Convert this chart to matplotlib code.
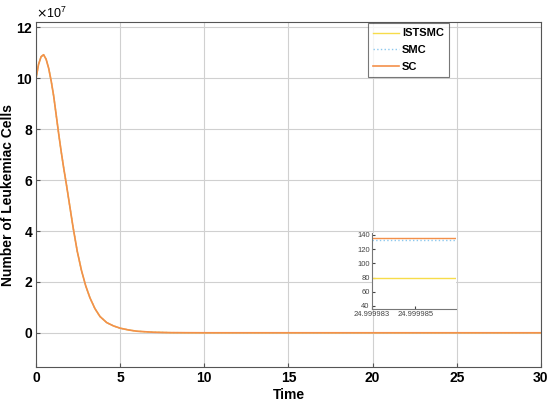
import numpy as np
import matplotlib
matplotlib.use('Agg')
import matplotlib.pyplot as plt
from matplotlib.ticker import ScalarFormatter, FixedLocator, FixedFormatter

# datos (celulas en unidades de 1e7)
time = [0, 0.15, 0.3, 0.45, 0.6, 0.75, 0.9, 1.05, 1.2, 1.35, 1.5, 1.65, 1.8, 2.0,
        2.2, 2.45, 2.7, 2.95, 3.2, 3.5, 3.8, 4.2, 4.6, 5.0, 5.5, 6.0, 7.0, 8.0,
        10, 15, 20, 25, 30]
cells_sc = [10.0, 10.55, 10.85, 10.93, 10.75, 10.4, 9.9, 9.3, 8.55, 7.8, 7.1, 6.45,
            5.85, 5.0, 4.15, 3.2, 2.45, 1.85, 1.38, 0.95, 0.64, 0.4, 0.27, 0.18, 0.11,
            0.06, 0.02, 0.005, 0, 0, 0, 0, 0]
cells_smc = cells_sc
cells_istsmc = cells_sc

# zoom cerca de t = 25
zoom_t = [24.999983, 24.999987]
zoom_istsmc = [79, 79]
zoom_smc = [132.5, 132.5]
zoom_sc = [135, 135]

plt.rcParams['font.family'] = ['Liberation Sans', 'DejaVu Sans']

colors = {'ISTSMC': '#F7DC4A', 'SMC': '#8CC8EE', 'SC': '#F4904A'}

fig = plt.figure(figsize=(5.5, 4.07), dpi=100)
ax = fig.add_axes([0.0655, 0.098, 0.918, 0.847])

scale = 1e7
ax.plot(time, np.array(cells_istsmc) * scale, color=colors['ISTSMC'], lw=1.0, label='ISTSMC')
ax.plot(time, np.array(cells_smc) * scale, color=colors['SMC'], lw=1.0, ls=':', label='SMC')
ax.plot(time, np.array(cells_sc) * scale, color=colors['SC'], lw=1.2, label='SC')

ax.set_xlim(0, 30)
ax.set_ylim(-1.35e7, 12.2e7)
ax.set_xticks(range(0, 31, 5))
ax.set_yticks(np.arange(0, 13, 2) * scale)
fmt = ScalarFormatter(useMathText=True)
fmt.set_powerlimits((7, 7))
ax.yaxis.set_major_formatter(fmt)
ax.yaxis.get_offset_text().set_fontsize(9)
ax.grid(True, color='#d0d0d0', lw=0.8)
ax.tick_params(direction='in', labelsize=10, length=3, color='#555555', pad=3)
ax.tick_params(axis='y', pad=2)
for lab in ax.get_xticklabels() + ax.get_yticklabels():
    lab.set_fontweight('bold')
for sp in ax.spines.values():
    sp.set_color('#555555')
ax.set_xlabel('Time', fontsize=10, fontweight='bold', labelpad=2)
ax.set_ylabel('Number of Leukemiac Cells', fontsize=10, fontweight='bold', labelpad=1)

leg = ax.legend(loc='upper right', bbox_to_anchor=(0.82, 1.0),
                prop={'weight': 'bold', 'size': 8}, frameon=True, fancybox=False,
                borderpad=0.45, labelspacing=0.6, handlelength=2.3, handletextpad=0.3,
                borderaxespad=0.1)
leg.get_frame().set_edgecolor('#555555')
leg.get_frame().set_linewidth(0.8)

# inset
axin = fig.add_axes([0.676, 0.241, 0.153, 0.187])
axin.plot(zoom_t, zoom_istsmc, color=colors['ISTSMC'], lw=1.0)
axin.plot(zoom_t, zoom_smc, color=colors['SMC'], lw=1.0, ls=':')
axin.plot(zoom_t, zoom_sc, color=colors['SC'], lw=1.0)
axin.set_xlim(24.999983, 24.99998686)
axin.set_ylim(35.8, 143)
axin.xaxis.set_major_locator(FixedLocator([24.999983, 24.999985]))
axin.xaxis.set_major_formatter(FixedFormatter(['24.999983', '24.999985']))
axin.set_yticks(range(40, 141, 20))
axin.tick_params(direction='in', labelsize=5.5, length=2, colors='#444444', pad=1.5)
axin.spines['top'].set_visible(False)
axin.spines['right'].set_visible(False)
axin.spines['left'].set_color('#777777')
axin.spines['bottom'].set_color('#777777')

fig.savefig('out.png', dpi=100)
